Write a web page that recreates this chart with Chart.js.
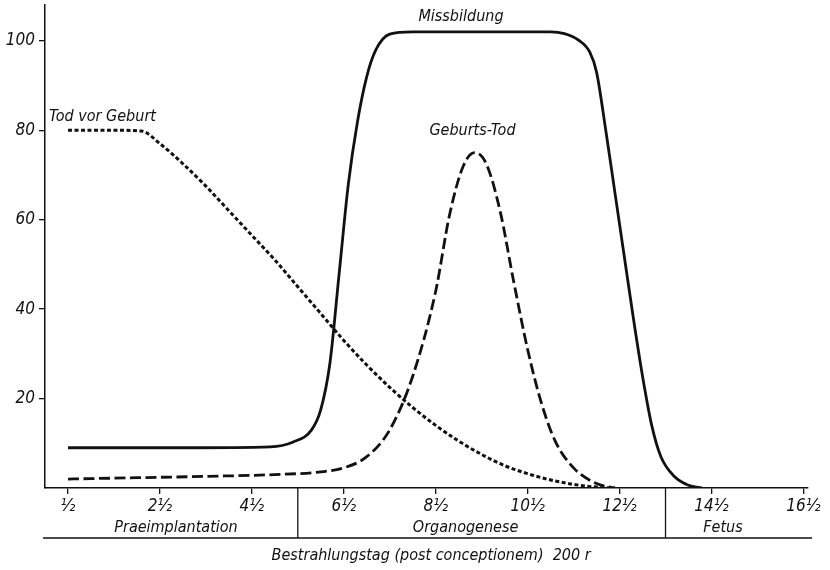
<!DOCTYPE html>
<html>
<head>
<meta charset="utf-8">
<script src="https://cdn.jsdelivr.net/npm/chart.js@4.4.1/dist/chart.umd.min.js"></script>
<style>
  html, body { margin: 0; padding: 0; background: #fff; }
  #wrap { width: 830px; height: 570px; }
</style>
</head>
<body>
<div id="wrap"><canvas id="chart" width="830" height="570"></canvas></div>
<script>
// Data (day post conceptionem, percent)
const todDays = [0.5, 1.5, 2.1, 2.5, 3, 3.5, 4, 4.5, 5, 5.5, 6, 6.5, 7, 7.5, 8, 8.5, 9, 9.5, 10, 10.5, 11, 11.5, 12, 12.4];
const todValues = [80, 80, 79.8, 77, 72.5, 67.5, 62, 56.5, 51, 45, 39, 33, 27.5, 22.5, 18, 14, 10.5, 7.5, 5, 3.2, 1.8, 0.8, 0.2, 0];

const missDays = [0.5, 3, 4.9, 5.4, 5.8, 6.0, 6.2, 6.4, 6.6, 6.8, 7.0, 7.2, 7.5, 8, 11, 11.3, 11.6, 11.85, 12.0, 12.2, 12.4, 12.6, 12.8, 13.0, 13.2, 13.4, 13.7, 14.0, 14.3];
const missValues = [9, 9, 9.2, 10.3, 13, 17.5, 28, 48, 68, 82, 92, 98, 101.5, 102, 102, 101.6, 100.2, 97.5, 93, 80, 66, 52, 38, 25, 14, 7, 2.5, 0.6, 0];

const geburtDays = [0.5, 2, 3.5, 5, 6, 6.5, 7, 7.5, 8, 8.5, 8.8, 9.1, 9.35, 9.6, 9.9, 10.2, 10.5, 10.8, 11.1, 11.5, 12, 12.4];
const geburtValues = [2, 2.3, 2.6, 3, 3.6, 4.5, 7, 13, 25, 44, 61, 72, 75, 72.5, 62, 46, 31, 19, 10.5, 4.5, 1, 0];

const xTickValues = [0.5, 2.5, 4.5, 6.5, 8.5, 10.5, 12.5, 14.5, 16.5];
const xTickLabels = ["½", "2½", "4½", "6½", "8½", "10½", "12½", "14½", "16½"];
const yTickValues = [20, 40, 60, 80, 100];

const phaseBounds = [5.5, 13.5];
const phaseNames = ["Praeimplantation", "Organogenese", "Fetus"];
const phaseCenters = [2.85, 9.15, 14.75];

const curveNames = ["Tod vor Geburt", "Missbildung", "Geburts-Tod"];
const curveLabelDays = [1.25, 9.05, 9.3];
const curveLabelValues = [82, 104.5, 79];

const axisTitle = "Bestrahlungstag (post conceptionem)  200 r";

// Styling
const FONT = "'Liberation Sans Narrow', 'DejaVu Sans Condensed', sans-serif";
const INK = "#111";

function toPoints(days, values) {
  return days.map((d, i) => ({ x: d, y: values[i] }));
}

function makeDataset(label, days, values, dash, width) {
  return {
    label: label,
    data: toPoints(days, values),
    borderColor: INK,
    backgroundColor: "transparent",
    borderWidth: width,
    borderDash: dash,
    pointRadius: 0,
    cubicInterpolationMode: "monotone",
    fill: false,
  };
}

// Texts and lines under the x axis, and the curve names
const annotationPlugin = {
  id: "annotations",
  afterDraw(chart) {
    const ctx = chart.ctx;
    const xScale = chart.scales.x;
    const yScale = chart.scales.y;
    const axisY = chart.chartArea.bottom;
    const lineY = axisY + 50;

    ctx.save();
    ctx.strokeStyle = INK;
    ctx.fillStyle = INK;
    ctx.lineWidth = 1.3;

    // phase dividers
    for (const bound of phaseBounds) {
      const px = xScale.getPixelForValue(bound);
      ctx.beginPath();
      ctx.moveTo(px, axisY);
      ctx.lineTo(px, lineY);
      ctx.stroke();
    }
    ctx.beginPath();
    ctx.moveTo(chart.chartArea.left - 2, lineY);
    ctx.lineTo(chart.chartArea.right + 4, lineY);
    ctx.stroke();

    ctx.font = "italic 16px " + FONT;
    ctx.textAlign = "center";
    ctx.textBaseline = "alphabetic";
    for (let i = 0; i < phaseNames.length; i++) {
      ctx.fillText(phaseNames[i], xScale.getPixelForValue(phaseCenters[i]), lineY - 6);
    }

    ctx.fillText(axisTitle, xScale.getPixelForValue(8.4), lineY + 22);

    // curve names
    for (let i = 0; i < curveNames.length; i++) {
      ctx.fillText(
        curveNames[i],
        xScale.getPixelForValue(curveLabelDays[i]),
        yScale.getPixelForValue(curveLabelValues[i])
      );
    }
    ctx.restore();
  },
};

const config = {
  type: "line",
  data: {
    datasets: [
      makeDataset("Tod vor Geburt", todDays, todValues, [4, 2.5], 3),
      makeDataset("Missbildung", missDays, missValues, [], 2.8),
      makeDataset("Geburts-Tod", geburtDays, geburtValues, [11, 4.5], 2.8),
    ],
  },
  options: {
    responsive: false,
    animation: false,
    layout: { padding: { top: 5, right: 22, left: 0, bottom: 0 } },
    plugins: {
      legend: { display: false },
      tooltip: { enabled: false },
    },
    scales: {
      x: {
        type: "linear",
        min: 0,
        max: 16.6,
        afterBuildTicks(scale) {
          scale.ticks = xTickValues.map((v) => ({ value: v }));
        },
        afterFit(scale) {
          scale.height = 82;
        },
        ticks: {
          autoSkip: false,
          maxRotation: 0,
          color: INK,
          padding: 2,
          font: { family: FONT, size: 17, style: "italic" },
          callback(value) {
            const idx = xTickValues.indexOf(value);
            return idx >= 0 ? xTickLabels[idx] : "";
          },
        },
        grid: {
          display: true,
          drawOnChartArea: false,
          drawTicks: true,
          tickLength: 6,
          color: INK,
          lineWidth: 1.3,
        },
        border: { display: true, color: INK, width: 1.5 },
      },
      y: {
        type: "linear",
        min: 0,
        max: 108,
        afterBuildTicks(scale) {
          scale.ticks = yTickValues.map((v) => ({ value: v }));
        },
        afterFit(scale) {
          scale.width = 45;
          scale.paddingTop = 0;
          scale.paddingBottom = 0;
        },
        ticks: {
          color: INK,
          padding: 4,
          font: { family: FONT, size: 17, style: "italic" },
        },
        grid: {
          display: true,
          drawOnChartArea: false,
          drawTicks: true,
          tickLength: 6,
          color: INK,
          lineWidth: 1.3,
        },
        border: { display: true, color: INK, width: 1.5 },
      },
    },
  },
  plugins: [annotationPlugin],
};

new Chart(document.getElementById("chart"), config);
</script>
</body>
</html>
